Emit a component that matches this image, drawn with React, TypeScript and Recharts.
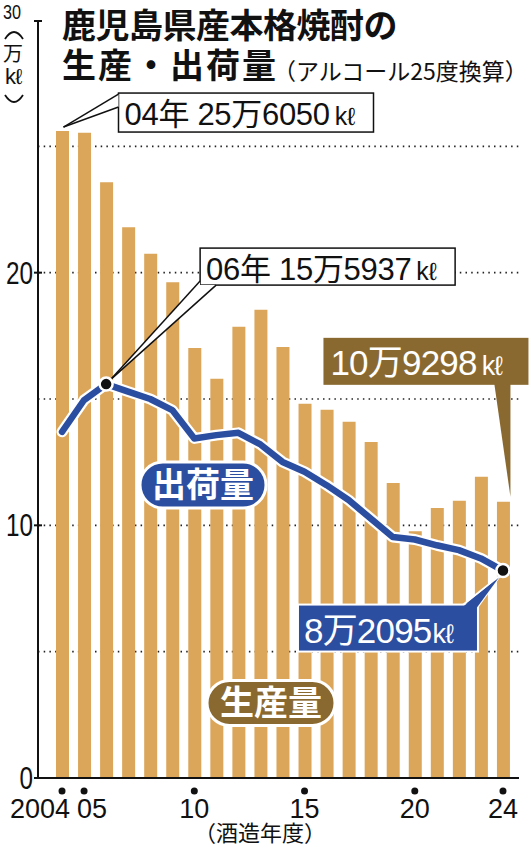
import { ComposedChart, Bar, Line, XAxis, YAxis, CartesianGrid, LabelList } from "recharts";

// 酒造年度
const YEARS = [
  2004, 2005, 2006, 2007, 2008, 2009, 2010, 2011, 2012, 2013, 2014,
  2015, 2016, 2017, 2018, 2019, 2020, 2021, 2022, 2023, 2024,
];
// 生産量 (万kℓ)
const PRODUCTION = [
  25.605, 25.54, 23.58, 21.8, 20.75, 19.62, 17.02, 15.8, 17.86, 18.53, 17.06,
  14.81, 14.57, 14.1, 13.3, 11.68, 9.77, 10.69, 10.97, 11.92, 10.93,
];
// 出荷量 (万kℓ)
const SHIPMENTS = [
  13.7, 14.96, 15.59, 15.29, 15.0, 14.56, 13.44, 13.57, 13.66, 13.2, 12.51,
  12.12, 11.59, 11.0, 10.27, 9.54, 9.44, 9.21, 9.02, 8.69, 8.21,
];

const X_TICK_YEARS = [2004, 2005, 2010, 2015, 2020, 2024];
const Y_TICKS = [0, 10, 20, 30];
const GRID_VALUES = [5, 10, 15, 20, 25];

const TITLE_1 = "鹿児島県産本格焼酎の";
const TITLE_2 = "生産・出荷量";
const SUBTITLE = "（アルコール25度換算）";
const X_CAPTION = "（酒造年度）";
const LABEL_PRODUCTION = "生産量";
const LABEL_SHIPMENTS = "出荷量";
const NOTE_2004 = ["04年 25万6050", "kℓ"];
const NOTE_2006 = ["06年 15万5937", "kℓ"];
const NOTE_PROD_2024 = ["10万9298", "kℓ"];
const NOTE_SHIP_2024 = ["8万2095", "kℓ"];

const BAR_COLOR = "#DBA65A";
const BLUE = "#2C4EA0";
const BROWN = "#8A6930";
const NUM_FONT = "'Liberation Sans', 'Noto Sans CJK JP', sans-serif";
const JP_FONT = "'Noto Sans CJK JP', sans-serif";

const data = YEARS.map((year, i) => ({
  year,
  production: PRODUCTION[i],
  shipments: SHIPMENTS[i],
}));

// label props differ a bit between versions, so read both shapes
function labelPos(props: any, values: number[]) {
  const vb = props.viewBox ?? {};
  const x = Number(vb.x ?? props.x);
  const y = Number(vb.y ?? props.y);
  const width = Number(vb.width ?? props.width ?? 0);
  const index = typeof props.index === "number" ? props.index : values.indexOf(Number(props.value));
  return { x, y, width, index };
}

function BarCallout(props: any) {
  const { x, y, width, index } = labelPos(props, PRODUCTION);
  const cx = x + width / 2;
  if (index === 0) {
    const tx = cx + 1;
    const ty = y - 4;
    const bx = tx + 55;
    const by = ty - 34;
    return (
      <g>
        <rect x={bx} y={by} width={255} height={39} fill="#fff" stroke="#111" strokeWidth={1.5} />
        <polygon points={`${bx},${by + 1} ${tx},${ty} ${bx},${by + 14}`} fill="#fff" />
        <line x1={bx} y1={by + 1} x2={tx} y2={ty} stroke="#111" strokeWidth={1.5} />
        <line x1={bx} y1={by + 14} x2={tx} y2={ty} stroke="#111" strokeWidth={1.5} />
        <text x={bx + 6} y={by + 32} fontFamily={NUM_FONT} fontSize={31} fill="#111" letterSpacing={-0.3}>
          {NOTE_2004[0]}
          <tspan dx={5} fontSize={25}>{NOTE_2004[1]}</tspan>
        </text>
      </g>
    );
  }
  if (index === YEARS.length - 1) {
    const tx = cx + 7;
    const ty = y - 5;
    const bx = tx - 187;
    const by = ty - 159;
    return (
      <g>
        <polygon points={`${bx + 170},${by + 40} ${bx + 187},${by + 40} ${tx},${ty}`} fill={BROWN} />
        <rect x={bx} y={by} width={205} height={47} fill={BROWN} />
        <text x={bx + 7} y={by + 37} fontFamily={NUM_FONT} fontSize={35} fill="#fff" letterSpacing={-0.8}>
          {NOTE_PROD_2024[0]}
          <tspan dx={5} fontSize={27}>{NOTE_PROD_2024[1]}</tspan>
        </text>
      </g>
    );
  }
  return null;
}

function LineCallout(props: any) {
  const { x, y, index } = labelPos(props, SHIPMENTS);
  const dot = <circle cx={x} cy={y} r={6.5} fill="#111" stroke="#fff" strokeWidth={2.5} />;
  if (index === 2) {
    const bx = x + 94;
    const by = y - 136;
    const bh = 37;
    const tx = x + 5;
    const ty = y - 5;
    return (
      <g>
        <rect x={bx} y={by} width={255} height={bh} fill="#fff" stroke="#111" strokeWidth={1.5} />
        <polygon points={`${bx},${by + bh - 4} ${tx},${ty} ${bx + 16},${by + bh} ${bx},${by + bh}`} fill="#fff" />
        <line x1={bx} y1={by + bh - 4} x2={tx} y2={ty} stroke="#111" strokeWidth={1.5} />
        <line x1={bx + 16} y1={by + bh} x2={tx} y2={ty} stroke="#111" strokeWidth={1.5} />
        <text x={bx + 6} y={by + 32} fontFamily={NUM_FONT} fontSize={31} fill="#111" letterSpacing={-0.3}>
          {NOTE_2006[0]}
          <tspan dx={5} fontSize={25}>{NOTE_2006[1]}</tspan>
        </text>
        {dot}
      </g>
    );
  }
  if (index === YEARS.length - 1) {
    const bx = x - 205;
    const by = y + 34;
    return (
      <g>
        <polygon
          points={`${bx + 163},${by + 2} ${x - 3},${y + 5} ${bx + 180},${by + 2}`}
          fill={BLUE}
          stroke="#fff"
          strokeWidth={2}
        />
        <rect x={bx} y={by} width={180} height={47} fill={BLUE} stroke="#fff" strokeWidth={2} />
        <polygon points={`${bx + 164},${by + 3} ${x - 4},${y + 7} ${bx + 179},${by + 3}`} fill={BLUE} />
        <text x={bx + 6} y={by + 38} fontFamily={NUM_FONT} fontSize={35} fill="#fff" letterSpacing={-0.8}>
          {NOTE_SHIP_2024[0]}
          <tspan dx={1} fontSize={27}>{NOTE_SHIP_2024[1]}</tspan>
        </text>
        {dot}
      </g>
    );
  }
  return null;
}

function YTick(props: any) {
  const { x, y, payload } = props;
  const v = payload.value;
  if (v === 30) {
    return (
      <g>
        <line x1={x - 4} y1={y + 1} x2={x + 4} y2={y + 1} stroke="#111" strokeWidth={2} />
        <text x={3} y={y - 1} fontFamily={NUM_FONT} fontSize={21} fill="#111" textLength={18} lengthAdjust="spacingAndGlyphs">
          {v}
        </text>
      </g>
    );
  }
  const label = String(v);
  return (
    <g>
      <line x1={x - 4} y1={y} x2={x + 4} y2={y} stroke="#111" strokeWidth={2} />
      <text
        x={x - 5}
        y={y + 11}
        textAnchor="end"
        fontFamily={NUM_FONT}
        fontSize={31}
        fill="#111"
        textLength={label.length * 13.5}
        lengthAdjust="spacingAndGlyphs"
      >
        {label}
      </text>
    </g>
  );
}

function XTick(props: any) {
  const { x, y, payload } = props;
  const yr = Number(payload.value);
  if (!X_TICK_YEARS.includes(yr)) return <g />;
  const label = yr === YEARS[0] ? String(yr) : String(yr).slice(2);
  const isFirst = yr === YEARS[0];
  const dx = isFirst || yr === 2005 ? 8 : 0;
  return (
    <g>
      <circle cx={x} cy={y + 13} r={3.5} fill="#111" />
      <text
        x={x + dx}
        y={y + 40}
        textAnchor={isFirst ? "end" : "middle"}
        fontFamily={NUM_FONT}
        fontSize={27}
        fill="#111"
      >
        {label}
      </text>
    </g>
  );
}

function Pill({ cx, cy, w, h, fill, text }: { cx: number; cy: number; w: number; h: number; fill: string; text: string }) {
  return (
    <g>
      <rect x={cx - w / 2} y={cy - h / 2} width={w} height={h} rx={h / 2} fill={fill} stroke="#fff" strokeWidth={3} />
      <text x={cx} y={cy + 12} textAnchor="middle" fontFamily={JP_FONT} fontWeight={700} fontSize={34} fill="#fff">
        {text}
      </text>
    </g>
  );
}

export default function App() {
  return (
    <div style={{ position: "absolute", left: 0, top: 0, width: 531, height: 848, background: "#fff" }}>
      <ComposedChart
        width={531}
        height={848}
        data={data}
        margin={{ top: 20, right: 12, bottom: 10, left: 0 }}
      >
        <CartesianGrid
          vertical={false}
          horizontalValues={GRID_VALUES}
          stroke="#222"
          strokeWidth={1.6}
          strokeDasharray="1.5 4.2"
        />
        <XAxis
          dataKey="year"
          height={60}
          padding={{ left: 13, right: 5 }}
          interval={0}
          tickSize={0}
          tickMargin={0}
          tickLine={false}
          axisLine={{ stroke: "#111", strokeWidth: 2 }}
          tick={<XTick />}
        />
        <YAxis
          width={38}
          domain={[0, 30]}
          ticks={Y_TICKS}
          interval={0}
          tickSize={0}
          tickMargin={0}
          tickLine={false}
          axisLine={{ stroke: "#111", strokeWidth: 2 }}
          tick={<YTick />}
        />
        <Bar dataKey="production" fill={BAR_COLOR} barSize={13} isAnimationActive={false}>
          <LabelList dataKey="production" content={<BarCallout />} />
        </Bar>
        <Line
          dataKey="shipments"
          type="linear"
          stroke="#fff"
          strokeWidth={11}
          strokeLinejoin="round"
          strokeLinecap="round"
          dot={false}
          activeDot={false}
          isAnimationActive={false}
        />
        <Line
          dataKey="shipments"
          type="linear"
          stroke={BLUE}
          strokeWidth={6.5}
          strokeLinejoin="round"
          strokeLinecap="round"
          dot={false}
          activeDot={false}
          isAnimationActive={false}
        >
          <LabelList dataKey="shipments" content={<LineCallout />} />
        </Line>
      </ComposedChart>

      <svg
        width={531}
        height={848}
        style={{ position: "absolute", left: 0, top: 0, pointerEvents: "none" }}
      >
        <text x={62} y={38} fontFamily={JP_FONT} fontWeight={700} fontSize={34} fill="#111" letterSpacing={-0.5}>
          {TITLE_1}
        </text>
        <text x={62} y={78} fontFamily={JP_FONT} fontWeight={700} fontSize={34} fill="#111" letterSpacing={2}>
          {TITLE_2}
        </text>
        <text x={273} y={80} fontFamily={JP_FONT} fontSize={23} fill="#111">
          {SUBTITLE}
        </text>

        {/* unit: (万kℓ) written vertically */}
        <path d="M 5 39 Q 14 25 23 39" fill="none" stroke="#111" strokeWidth={1.8} />
        <text x={13} y={61} textAnchor="middle" fontFamily={JP_FONT} fontSize={20} fill="#111">
          万
        </text>
        <text x={13} y={84} textAnchor="middle" fontFamily={NUM_FONT} fontSize={22} fill="#111" letterSpacing={-1}>
          kℓ
        </text>
        <path d="M 5 95 Q 14 109 23 95" fill="none" stroke="#111" strokeWidth={1.8} />

        <Pill cx={203} cy={485} w={126} h={46} fill={BLUE} text={LABEL_SHIPMENTS} />
        <Pill cx={271} cy={703} w={128} h={45} fill={BROWN} text={LABEL_PRODUCTION} />

        <text x={260} y={841} textAnchor="middle" fontFamily={JP_FONT} fontSize={22} fill="#111">
          {X_CAPTION}
        </text>
      </svg>
    </div>
  );
}
